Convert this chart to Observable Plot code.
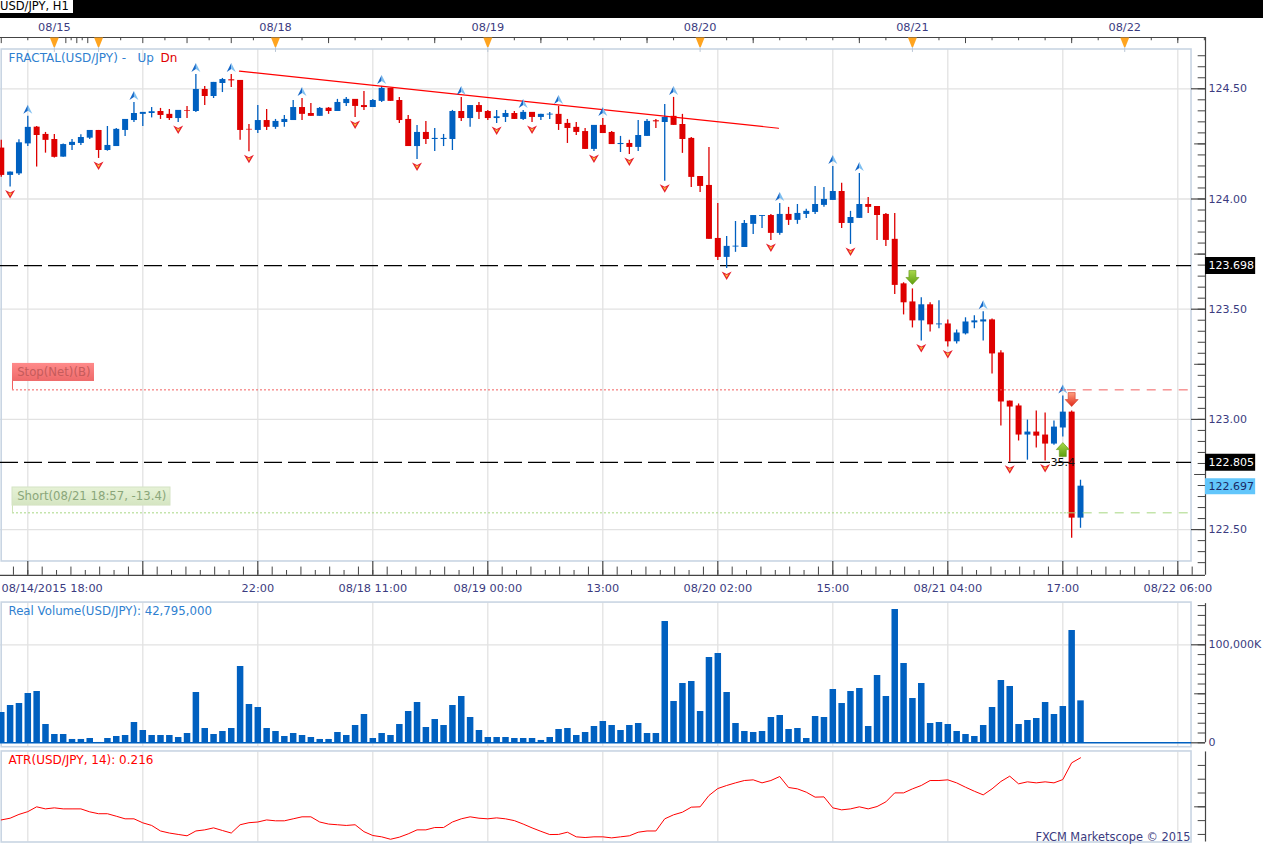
<!DOCTYPE html>
<html>
<head>
<meta charset="utf-8">
<script src="https://cdn.jsdelivr.net/npm/d3@7"></script>
<script src="https://cdn.jsdelivr.net/npm/@observablehq/plot@0.6"></script>
<style>
html,body{margin:0;padding:0;background:#fff;overflow:hidden}
#root{position:relative;width:1263px;height:844px;overflow:hidden;font-family:"DejaVu Sans",sans-serif}
#bar{position:absolute;left:0;top:0;width:1263px;height:18px;background:#000}
#bar span{position:absolute;left:0;top:0;height:13px;line-height:13px;width:73px;background:#fff;color:#000;font-size:11.5px;white-space:nowrap}
#root svg{position:absolute;left:0}
</style>
</head>
<body>
<div id="root"><div id="bar"><span>USD/JPY, H1</span></div></div>
<script>
// Candle index of the first bar (index 0 is 08/14/2015 18:00; one bar per hour of trading)
const firstIndex = -3;
const opens = [124.231,124.107,124.114,124.250,124.326,124.293,124.270,124.190,124.243,124.252,124.276,124.311,124.220,124.238,124.311,124.356,124.384,124.388,124.397,124.384,124.365,124.400,124.397,124.497,124.465,124.524,124.541,124.538,124.316,124.311,124.356,124.325,124.347,124.356,124.415,124.388,124.375,124.412,124.397,
124.433,124.452,124.424,124.415,124.443,124.502,124.447,124.361,124.238,124.302,124.270,124.270,124.270,124.397,124.365,124.424,124.397,124.365,124.370,124.388,124.361,124.393,124.370,124.381,124.384,124.343,124.325,124.306,124.225,124.334,124.302,124.247,124.252,124.234,124.284,
124.355,124.347,124.375,124.338,124.275,124.102,124.0615,123.821,123.735,123.782,123.780,123.885,123.921,123.925,123.844,123.930,123.903,123.930,123.939,123.971,123.9935,124.034,123.889,123.912,123.975,123.966,123.930,123.817,
123.615,123.533,123.447,123.520,123.429,123.433,123.352,123.388,123.438,123.442,123.4515,123.3015,123.083,123.061,122.929,122.9425,122.929,122.888,122.961,123.033,122.552];
const highs = [124.266,124.122,124.269,124.375,124.329,124.302,124.293,124.250,124.270,124.291,124.311,124.311,124.329,124.320,124.361,124.438,124.393,124.415,124.411,124.406,124.402,124.420,124.565,124.511,124.529,124.547,124.565,124.538,124.338,124.424,124.406,124.361,124.379,124.447,124.456,124.433,124.415,124.415,124.452,
124.461,124.452,124.488,124.452,124.511,124.502,124.461,124.379,124.334,124.352,124.320,124.293,124.402,124.461,124.424,124.438,124.402,124.402,124.402,124.397,124.402,124.393,124.384,124.393,124.420,124.361,124.347,124.320,124.334,124.365,124.306,124.284,124.266,124.356,124.361,
124.361,124.429,124.461,124.384,124.279,124.102,124.234,123.980,123.830,123.898,123.903,123.925,123.925,123.930,123.980,123.962,123.975,123.953,124.057,124.052,124.148,124.071,123.944,124.116,124.007,123.966,123.9345,123.9345,
123.620,123.592,123.5515,123.529,123.538,123.4515,123.406,123.461,123.470,123.488,123.456,123.311,123.083,123.070,122.997,123.038,123.029,122.9925,123.106,123.038,122.724];
const lows = [124.099,124.054,124.107,124.238,124.145,124.208,124.186,124.189,124.220,124.243,124.270,124.184,124.217,124.238,124.284,124.347,124.329,124.368,124.361,124.356,124.347,124.365,124.393,124.424,124.456,124.483,124.506,124.266,124.214,124.297,124.311,124.316,124.325,124.356,124.356,124.375,124.375,124.384,124.397,
124.420,124.370,124.402,124.415,124.438,124.443,124.343,124.238,124.179,124.247,124.216,124.238,124.220,124.352,124.325,124.361,124.356,124.343,124.347,124.361,124.356,124.347,124.356,124.361,124.311,124.252,124.288,124.225,124.216,124.297,124.247,124.211,124.202,124.216,124.284,
124.320,124.080,124.334,124.207,124.052,124.030,123.817,123.721,123.685,123.758,123.780,123.839,123.8665,123.812,123.835,123.880,123.885,123.912,123.930,123.962,123.9935,123.8665,123.794,123.912,123.9345,123.812,123.785,123.567,
123.474,123.415,123.356,123.397,123.411,123.329,123.342,123.383,123.411,123.356,123.206,122.970,122.805,122.902,122.815,122.870,122.811,122.883,122.920,122.461,122.506];
const closes = [124.107,124.122,124.255,124.325,124.288,124.266,124.189,124.247,124.257,124.279,124.311,124.220,124.243,124.316,124.361,124.388,124.393,124.396,124.379,124.365,124.402,124.397,124.497,124.465,124.529,124.542,124.536,124.311,124.313,124.356,124.325,124.352,124.361,124.415,124.384,124.375,124.411,124.397,124.438,
124.452,124.420,124.415,124.447,124.502,124.443,124.356,124.238,124.302,124.270,124.275,124.275,124.397,124.365,124.424,124.393,124.365,124.373,124.388,124.361,124.393,124.370,124.384,124.385,124.338,124.320,124.302,124.225,124.334,124.297,124.247,124.252,124.234,124.288,124.352,
124.350,124.370,124.334,124.270,124.098,124.057,123.817,123.735,123.785,123.786,123.889,123.925,123.925,123.844,123.930,123.903,123.9345,123.944,123.975,123.998,124.034,123.889,123.916,123.975,123.962,123.925,123.812,123.608,
123.529,123.447,123.520,123.429,123.433,123.352,123.392,123.442,123.447,123.4515,123.297,123.079,123.056,122.929,122.9425,122.924,122.888,122.965,123.033,122.552,122.697];
const volumes = [30940,38080,40120,50320,52360,18700,8500,8500,3400,3400,4420,340,4420,6460,7480,20740,12580,7480,7480,7480,5440,9520,51340,14620,8500,11560,14620,77860,39100,36040,14620,11560,6460,9520,7480,5440,3400,3400,10540,
7480,17680,28900,4420,9520,7480,18700,31960,41140,15640,23800,17680,38080,47260,25840,12580,5440,5440,5440,4420,4420,4420,2380,5440,13600,14620,7480,10540,16660,21760,17680,12580,17680,19720,9520,
9520,123760,42160,60520,62560,31960,87040,91120,51340,19720,11560,10540,11560,25840,27880,13600,14620,4420,26860,25840,54400,40120,52360,55420,16660,68680,47260,136000,
80920,45220,60520,19720,20740,18700,11560,8500,6460,17680,36040,63580,57460,18700,22780,24820,41140,28900,37060,114580,42795];
const atrValues = [.126,.1285,.134,.138,.145,.142,.1435,.142,.142,.142,.1377,.135,.135,.1314,.1276,.1276,.1218,.118,.110,.107,.105,.103,.110,.1116,.1145,.1107,.107,.119,.122,.123,.126,.1247,.1247,.1276,.1305,.1305,.123,.120,.119,
.118,.119,.109,.1034,.1015,.098,.101,.1058,.1116,.1116,.115,.115,.123,.1276,.1305,.1285,.1276,.129,.1276,.125,.120,.1145,.1095,.1048,.105,.1082,.1015,.1005,.1015,.1015,.100,.1015,.103,.1082,.110,
.110,.1276,.1334,.1372,.1445,.145,.1614,.1715,.1759,.1797,.1831,.1841,.1797,.1831,.1889,.1730,.1710,.1662,.1590,.1594,.1435,.1406,.142,.145,.142,.1454,.1522,.1652,.1652,
.1710,.1759,.1831,.1831,.1841,.1797,.1734,.1676,.1623,.1710,.1817,.1894,.1783,.1812,.1797,.1812,.1797,.1845,.2087,.216];

const fractalUp = [0,12,19,23,31,40,49,56,60,65,73,85,91,94,108,117];
const fractalDown = [-2,8,17,25,37,44,53,57,64,68,72,79,84,93,101,104,111,115];
const priceTicks = [122.5,123,123.5,124,124.5];
const levels = [123.698,122.805];
const lastPrice = 122.697;
const stopPrice = 123.134;
const shortPrice = 122.576;
const trend = [{i:23.93,p:124.58},{i:84.86,p:124.321}];
const gridIdx = [0,13,26,39,52,65,78,91,104,117,130];
const timeIdx = [26,39,52,65,78,91,104,117,130];
const firstTimeLabel = "08/14/2015 18:00";
const timeLabels = ["22:00","08/18 11:00","08/19 00:00","13:00","08/20 02:00","15:00","08/21 04:00","17:00","08/22 06:00"];
const dayIdx = [3,28,52,76,100,124];
const dayLabels = ["08/15","08/18","08/19","08/20","08/21","08/22"];
const eventIdx = [3,8,28,52,76,100,124];

const RED="#de0000", BLUE="#0060c0", GRID="#e2e2e2", FRAME="#c9d5e3", AXIS="#444444", INK="#3b3b80", FONT='"DejaVu Sans",sans-serif';
const XL=-3.086, XF=131.55, XA=133.13, XB=138.8;

const candles = opens.map((o,k)=>({i:k+firstIndex,open:o,high:highs[k],low:lows[k],close:closes[k],vol:volumes[k],atr:atrValues[k]}));
const byIdx = new Map(candles.map(c=>[c.i,c]));
const colorOf = c => c.close>=c.open ? BLUE : RED;

const poly = pts => ({draw(c){pts.forEach((p,n)=> n?c.lineTo(p[0],p[1]):c.moveTo(p[0],p[1])); c.closePath();}});
const upL = poly([[0,-4.5],[0,1.5],[-4.5,4.5]]), upR = poly([[0,-4.5],[4.5,4.5],[0,1.5]]);
const dnO = poly([[-5,-4],[0,-1.5],[5,-4],[0,4.5]]), dnI = poly([[-2,-1.5],[0,-.5],[2,-1.5],[0,2]]);
const arrowDown = poly([[-3.5,-7],[3.5,-7],[3.5,0],[6.5,0],[0,7],[-6.5,0],[-3.5,0]]);
const arrowUp = poly([[-3.5,7],[3.5,7],[3.5,0],[6.5,0],[0,-7],[-6.5,0],[-3.5,0]]);
const pennant = poly([[-4.5,-4],[4.5,-4],[.7,5.5],[-.7,5.5]]);

const axisBase = {tickSize:0, label:null, fill:INK};
const bottomK = d3.range(-1,133/(13/8)).map(k=>k*13/8);

const main = Plot.plot({
  width:1263,height:582,marginLeft:0,marginRight:58,marginTop:18,marginBottom:25,
  style:{background:"none",fontFamily:FONT,fontSize:"11px"},
  x:{domain:[XL,XA],axis:null},
  y:{domain:[122.2917,124.7373],axis:null},
  marks:[
    Plot.ruleY(priceTicks,{x1:XL,x2:XF,stroke:GRID,strokeWidth:1.3}),
    Plot.ruleX(gridIdx,{y1:122.3553,y2:124.6783,stroke:GRID,strokeWidth:1.3}),
    Plot.rect([0],{x1:-2.95,x2:XF,y1:122.3553,y2:124.6783,stroke:FRAME,strokeWidth:1.6,fill:"none"}),
    // top and bottom time scales
    Plot.ruleY([124.7328],{x1:XL,x2:XA,stroke:AXIS,strokeWidth:1.2}),
    Plot.ruleX([-3,4.3,5.54,6.78,13,18,23,...d3.range(34,134,12)],{y1:124.7328,y2:124.705,stroke:AXIS}),
    Plot.ruleX([0,4.9,6.15,10.5,15.5,20.5,25.5,...d3.range(31,134,3)],{y1:124.7328,y2:124.718,stroke:AXIS}),
    Plot.ruleX(eventIdx,{y1:124.69,y2:124.665,stroke:"#b9c6d6"}),
    Plot.dot(eventIdx,{x:d=>d,y:124.7146,symbol:pennant,fill:"#ffa41f"}),
    Plot.axisX({anchor:"top",...axisBase,ticks:dayIdx,tickFormat:d=>dayLabels[dayIdx.indexOf(d)],tickPadding:6,fontSize:11.3}),
    Plot.ruleY([122.2925],{x1:XL,x2:XA,stroke:AXIS,strokeWidth:1.2}),
    Plot.ruleX(bottomK.filter((k,n)=>n%2===1),{y1:122.2925,y2:122.3144,stroke:AXIS}),
    Plot.ruleX(bottomK.filter((k,n)=>n%2===0),{y1:122.2925,y2:122.33,stroke:AXIS}),
    Plot.ruleX(gridIdx,{y1:122.2925,y2:122.3553,stroke:AXIS,strokeWidth:1.2}),
    Plot.axisX({anchor:"bottom",...axisBase,ticks:timeIdx,tickFormat:d=>timeLabels[timeIdx.indexOf(d)],tickPadding:8,fontSize:11.3}),
    Plot.text([firstTimeLabel],{frameAnchor:"bottom-left",dy:16,dx:1,textAnchor:"start",fill:INK,lineAnchor:"bottom",text:d=>d,fontSize:11.3}),
    // right price scale
    Plot.ruleX([XA],{y1:122.2925,y2:124.7328,stroke:AXIS,strokeWidth:1.2}),
    Plot.ruleY(d3.range(0,47).map(k=>122.35+k*.05),{x1:132.3,x2:XA,stroke:AXIS}),
    Plot.ruleY([122.75,123.25,123.75,124.25],{x1:131.9,x2:XA,stroke:AXIS}),
    Plot.ruleY(priceTicks,{x1:XF,x2:XA,stroke:AXIS,strokeWidth:1.2}),
    Plot.axisY({anchor:"right",...axisBase,ticks:priceTicks,tickFormat:d=>d.toFixed(2),tickPadding:3}),
    // candles
    Plot.ruleY(levels,{x1:XL,x2:XF,stroke:"#000",strokeWidth:1.3,strokeDasharray:"18,6"}),
    Plot.ruleX(candles,{x:"i",y1:"low",y2:"high",stroke:colorOf,strokeWidth:1.3}),
    Plot.ruleX(candles,{x:"i",y1:"open",y2:"close",stroke:colorOf,strokeWidth:6}),
    Plot.line(trend,{x:"i",y:"p",stroke:"#ff0000",strokeWidth:1.2}),
    // fractals
    Plot.dot(fractalUp,{x:d=>d,y:d=>byIdx.get(d).high,dy:-7,symbol:upL,fill:"#1467c8"}),
    Plot.dot(fractalUp,{x:d=>d,y:d=>byIdx.get(d).high,dy:-7,symbol:upR,fill:"#7fbff0"}),
    Plot.dot(fractalDown,{x:d=>d,y:d=>byIdx.get(d).low,dy:7,symbol:dnO,fill:"#e8202c"}),
    Plot.dot(fractalDown,{x:d=>d,y:d=>byIdx.get(d).low,dy:7,symbol:dnI,fill:"#f6c33c"}),
    // trade and stop lines
    Plot.ruleY([stopPrice],{x1:-1.73,x2:117.5,stroke:"#f25f5f",strokeDasharray:"2,2"}),
    Plot.ruleY([stopPrice],{x1:117.5,x2:XF,stroke:"#f25f5f",strokeDasharray:"9,7"}),
    Plot.ruleY([shortPrice],{x1:-1.73,x2:117.5,stroke:"#a6d781",strokeDasharray:"2,2"}),
    Plot.ruleY([shortPrice],{x1:117.5,x2:XF,stroke:"#a6d781",strokeDasharray:"9,7"}),
    Plot.ruleX([-1.73],{y1:123.134,y2:123.172,stroke:"#f25f5f"}),
    Plot.ruleX([-1.73],{y1:122.576,y2:122.609,stroke:"#cfe3b8"}),
    Plot.rect([0],{x1:-1.73,x2:7.54,y1:123.172,y2:123.254,fill:"url(#stopFill)"}),
    Plot.rect([0],{x1:-1.73,x2:16.13,y1:122.609,y2:122.691,fill:"url(#shortFill)",stroke:"#d5e3c4"}),
    Plot.text(["Stop(Net)(B)"],{x:-1.2,y:123.213,text:d=>d,textAnchor:"start",fill:"#c55b5b",fontSize:11.7}),
    Plot.text(["Short(08/21 18:57, -13.4)"],{x:-1.2,y:122.65,text:d=>d,textAnchor:"start",fill:"#8aa67a",fontSize:11.7}),
    // entry / exit arrows
    Plot.dot([100],{x:d=>d,y:123.644,symbol:arrowDown,fill:"url(#greenFill)",stroke:"#5f9410",strokeWidth:.6}),
    Plot.dot([118],{x:d=>d,y:123.09,symbol:arrowDown,fill:"url(#redFill)",stroke:"#d23a2a",strokeWidth:.6}),
    Plot.dot([117],{x:d=>d,y:122.863,symbol:arrowUp,fill:"url(#greenFill)",stroke:"#5f9410",strokeWidth:.6}),
    Plot.text(["35.4"],{x:117,y:122.805,text:d=>d,fill:"#111"}),
    // current price tags
    Plot.ruleY(levels,{x1:XA,x2:XB,stroke:"#000",strokeWidth:17}),
    Plot.text(levels,{x:XA,y:d=>d,dx:3,text:d=>d.toFixed(3),textAnchor:"start",fill:"#fff"}),
    Plot.ruleY([lastPrice],{x1:XA,x2:XB,stroke:"#62c6fb",strokeWidth:16}),
    Plot.text([lastPrice],{x:XA,y:d=>d,dx:3,text:d=>d.toFixed(3),textAnchor:"start",fill:"#1a2a66"}),
    // title
    Plot.text(["FRACTAL(USD/JPY) -"],{frameAnchor:"top-left",dx:8,dy:17,text:d=>d,textAnchor:"start",fill:"#2f7fd0",fontSize:12}),
    Plot.text(["Up"],{frameAnchor:"top-left",dx:137,dy:17,text:d=>d,textAnchor:"start",fill:"#2f7fd0",fontSize:12}),
    Plot.text(["Dn"],{frameAnchor:"top-left",dx:160,dy:17,text:d=>d,textAnchor:"start",fill:"#e00000",fontSize:12})
  ]
});
main.style.top="18px";
main.insertAdjacentHTML("afterbegin",`<defs>
<linearGradient id="stopFill" x1="0" y1="0" x2="0" y2="1"><stop offset="0" stop-color="#ff8a8a"/><stop offset="1" stop-color="#ee6a6a"/></linearGradient>
<linearGradient id="shortFill" x1="0" y1="0" x2="0" y2="1"><stop offset="0" stop-color="#e6f2d6"/><stop offset="1" stop-color="#d5e5c2"/></linearGradient>
<linearGradient id="greenFill" x1="0" y1="0" x2="0" y2="1"><stop offset="0" stop-color="#a8d84a"/><stop offset="1" stop-color="#5f9f10"/></linearGradient>
<linearGradient id="redFill" x1="0" y1="0" x2="0" y2="1"><stop offset="0" stop-color="#ffa080"/><stop offset="1" stop-color="#e02818"/></linearGradient>
</defs>`);

const volTicks = [0,100000];
const vol = Plot.plot({
  width:1263,height:148,marginLeft:0,marginRight:58,marginTop:0,marginBottom:0,
  style:{background:"none",fontFamily:FONT,fontSize:"11px"},
  x:{domain:[XL,XA],axis:null},
  y:{domain:[-5816,145204],axis:null},
  marks:[
    Plot.ruleY([100000],{x1:XL,x2:XF,stroke:GRID,strokeWidth:1.3}),
    Plot.ruleX(gridIdx,{y1:-4000,y2:143000,stroke:GRID,strokeWidth:1.3}),
    Plot.rect([0],{x1:-2.95,x2:XF,y1:-4500,y2:143100,stroke:FRAME,strokeWidth:1.6,fill:"none"}),
    Plot.ruleX(candles,{x:"i",y1:0,y2:"vol",stroke:BLUE,strokeWidth:6.5}),
    Plot.ruleY([0],{x1:XL,x2:XF,stroke:BLUE,strokeWidth:1.5}),
    Plot.ruleX([XA],{y1:0,y2:142000,stroke:AXIS,strokeWidth:1.2}),
    Plot.ruleY(d3.range(0,15).map(k=>k*10000),{x1:132.3,x2:XA,stroke:AXIS}),
    Plot.ruleY([50000],{x1:131.9,x2:XA,stroke:AXIS}),
    Plot.ruleY(volTicks,{x1:XF,x2:XA,stroke:AXIS,strokeWidth:1.2}),
    Plot.axisY({anchor:"right",...axisBase,ticks:volTicks,tickFormat:d=>d?d3.format(",")(d)+"K":"0",tickPadding:3}),
    Plot.text(["Real Volume(USD/JPY): 42,795,000"],{frameAnchor:"top-left",dx:8,dy:6,text:d=>d,textAnchor:"start",fill:"#2f7fd0",fontSize:11.75})
  ]
});
vol.style.top="600px";

const atrTicks = [.105,.125,.145,.165,.185,.205];
const atr = Plot.plot({
  width:1263,height:96,marginLeft:0,marginRight:58,marginTop:0,marginBottom:0,
  style:{background:"none",fontFamily:FONT,fontSize:"11px"},
  x:{domain:[XL,XA],axis:null},
  y:{domain:[.0904,.2295],axis:null},
  marks:[
    Plot.ruleX(gridIdx,{y1:.0938,y2:.2245,stroke:GRID,strokeWidth:1.3}),
    Plot.rect([0],{x1:-2.95,x2:XF,y1:.0933,y2:.2252,stroke:FRAME,strokeWidth:1.6,fill:"none"}),
    Plot.line(candles,{x:"i",y:"atr",stroke:"#ff0000",strokeWidth:1}),
    Plot.ruleX([XA],{y1:.0940,y2:.2245,stroke:AXIS,strokeWidth:1.2}),
    Plot.ruleY(atrTicks,{x1:132.3,x2:XA,stroke:AXIS}),
    Plot.ruleY([.145],{x1:131.9,x2:XA,stroke:AXIS}),
    Plot.text(["ATR(USD/JPY, 14): 0.216"],{frameAnchor:"top-left",dx:8,dy:7,text:d=>d,textAnchor:"start",fill:"#ff0000",fontSize:12}),
    Plot.text(["FXCM Marketscope © 2015"],{x:XF,y:.1012,dx:-1,text:d=>d,textAnchor:"end",fill:"#3b3b80",fontSize:11.4})
  ]
});
atr.style.top="748px";

const root=document.getElementById("root");
root.append(main,vol,atr);
</script>
</body>
</html>
